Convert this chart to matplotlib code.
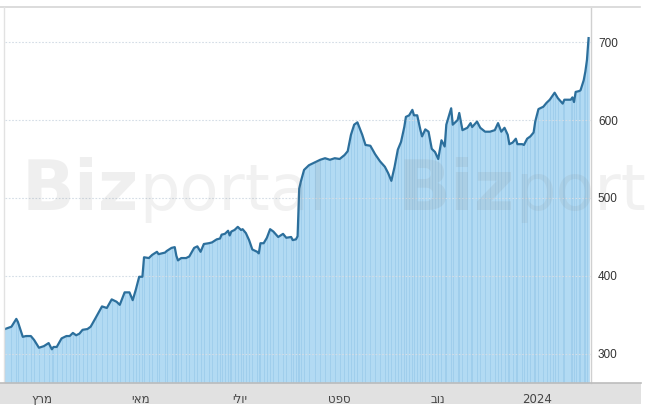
import numpy as np
import pandas as pd
import matplotlib
matplotlib.use("Agg")
from matplotlib import pyplot as plt

plt.rcParams['font.family'] = ['Liberation Sans', 'DejaVu Sans']

dates = [
    "2023-02-06", "2023-02-10", "2023-02-13", "2023-02-14", "2023-02-17", "2023-02-19",
    "2023-02-22", "2023-02-24", "2023-02-27", "2023-03-02", "2023-03-05", "2023-03-07",
    "2023-03-08", "2023-03-10", "2023-03-13", "2023-03-16", "2023-03-18", "2023-03-20",
    "2023-03-22", "2023-03-24", "2023-03-26", "2023-03-29", "2023-03-31", "2023-04-03",
    "2023-04-07", "2023-04-10", "2023-04-13", "2023-04-16", "2023-04-18", "2023-04-21",
    "2023-04-24", "2023-04-26", "2023-04-28", "2023-04-30", "2023-05-02", "2023-05-03",
    "2023-05-06", "2023-05-08", "2023-05-11", "2023-05-12", "2023-05-16", "2023-05-17",
    "2023-05-20", "2023-05-22", "2023-05-23", "2023-05-24", "2023-05-26", "2023-05-29",
    "2023-05-31", "2023-06-03", "2023-06-05", "2023-06-07", "2023-06-09", "2023-06-12",
    "2023-06-14", "2023-06-17", "2023-06-19", "2023-06-20", "2023-06-22", "2023-06-24",
    "2023-06-25", "2023-06-26", "2023-06-28", "2023-06-30", "2023-07-02", "2023-07-03",
    "2023-07-05", "2023-07-07", "2023-07-09", "2023-07-12", "2023-07-13", "2023-07-14",
    "2023-07-16", "2023-07-18", "2023-07-20", "2023-07-22", "2023-07-25", "2023-07-28",
    "2023-07-30", "2023-08-02", "2023-08-03", "2023-08-05", "2023-08-06", "2023-08-07",
    "2023-08-08", "2023-08-10", "2023-08-13", "2023-08-17", "2023-08-20", "2023-08-23",
    "2023-08-26", "2023-08-29", "2023-09-01", "2023-09-04", "2023-09-06", "2023-09-08",
    "2023-09-10", "2023-09-12", "2023-09-15", "2023-09-17", "2023-09-20", "2023-09-23",
    "2023-09-26", "2023-09-29", "2023-10-01", "2023-10-03", "2023-10-05", "2023-10-07",
    "2023-10-09", "2023-10-11", "2023-10-12", "2023-10-14", "2023-10-16", "2023-10-17",
    "2023-10-19", "2023-10-21", "2023-10-22", "2023-10-24", "2023-10-26", "2023-10-28",
    "2023-10-30", "2023-11-01", "2023-11-03", "2023-11-05", "2023-11-06", "2023-11-09",
    "2023-11-10", "2023-11-13", "2023-11-14", "2023-11-16", "2023-11-19", "2023-11-21",
    "2023-11-22", "2023-11-25", "2023-11-27", "2023-11-30", "2023-12-03", "2023-12-06",
    "2023-12-08", "2023-12-10", "2023-12-12", "2023-12-14", "2023-12-15", "2023-12-17",
    "2023-12-19", "2023-12-20", "2023-12-23", "2023-12-24", "2023-12-26", "2023-12-28",
    "2023-12-30", "2023-12-31", "2024-01-02", "2024-01-05", "2024-01-07", "2024-01-09",
    "2024-01-11", "2024-01-12", "2024-01-14", "2024-01-17", "2024-01-18", "2024-01-22",
    "2024-01-23", "2024-01-24", "2024-01-25", "2024-01-27", "2024-01-28", "2024-01-30",
    "2024-01-31", "2024-02-01", "2024-02-02",
]
prices = [
    332, 335, 345, 341, 322, 323,
    323, 318, 308, 310, 314, 306,
    309, 309, 320, 323, 323, 327,
    324, 326, 331, 332, 335, 346,
    361, 359, 370, 367, 363, 379,
    379, 369, 383, 399, 399, 424,
    423, 427, 431, 428, 430, 432,
    436, 437, 426, 420, 423, 423,
    425, 436, 438, 431, 441, 442,
    443, 447, 448, 453, 454, 458,
    452, 457, 459, 463, 459, 460,
    455, 446, 434, 431, 429, 442,
    442, 449, 460, 457, 450, 454,
    449, 450, 446, 447, 451, 512,
    521, 536, 542, 546, 549, 551,
    549, 551, 550, 555, 560, 581,
    594, 597, 581, 568, 567, 556,
    547, 540, 532, 522, 540, 562,
    572, 591, 604, 606, 613, 606,
    606, 587, 579, 588, 585, 563,
    559, 550, 574, 566, 594, 615,
    594, 600, 609, 587, 590, 596,
    591, 598, 590, 585, 585, 587,
    596, 585, 590, 581, 569, 571,
    576, 569, 569, 568, 576, 579,
    584, 598, 614, 617, 622, 626,
    632, 635, 628, 621, 626, 626,
    629, 623, 636, 637, 638, 651,
    662, 677, 705,
]
month_ticks = ["2023-03-01", "2023-05-01", "2023-07-01", "2023-09-01", "2023-11-01", "2024-01-01"]
month_labels = ["מרץ", "מאי", "יולי", "ספט", "נוב", "2024"]
y_ticks = [300, 400, 500, 600, 700]

x = pd.to_datetime(dates)
tick_x = pd.to_datetime(month_ticks)

W, H = 646, 407
fig = plt.figure(figsize=(W / 100, H / 100), dpi=100)
fig.patch.set_facecolor('white')

# plot area in pixels: x 5..591, y 8..383 (from top)
ax = fig.add_axes([5 / W, (H - 383) / H, 586 / W, 375 / H])
ax.set_facecolor('white')

y0 = 262.8
ax.fill_between(x, prices, y0, color='#b2daf3', linewidth=0, zorder=2)
ax.vlines(x, y0, prices, color='#94c6e8', linewidth=0.7, alpha=0.6, zorder=2)
ax.plot(x, prices, color='#2c6f9c', linewidth=1.6, zorder=4, solid_joinstyle='round')

ax.set_xlim(pd.Timestamp("2023-02-06"), pd.Timestamp("2024-02-03 12:00"))
ax.set_ylim(y0, 743.6)

for v in y_ticks:
    ax.axhline(v, color='#d4dde6', linewidth=0.8, linestyle=(0, (1.5, 1.5)), zorder=3)

ax.yaxis.tick_right()
ax.set_yticks(y_ticks)
ax.set_yticklabels([str(v) for v in y_ticks], fontsize=8.5, color='#333333')
ax.tick_params(axis='y', length=0, pad=5)

ax.set_xticks(tick_x)
# matplotlib lays glyphs left to right, so hebrew words are reversed for display
ax.set_xticklabels([s[::-1] if not s.isdigit() else s for s in month_labels],
                   fontsize=8.5, color='#444444', family=['DejaVu Sans'])
ax.tick_params(axis='x', length=0, pad=7)

for side in ['top', 'left', 'bottom']:
    ax.spines[side].set_visible(False)
ax.spines['right'].set_color('#d0d0d0')
ax.spines['right'].set_linewidth(1.0)

# frame lines and bottom band
fig.add_artist(plt.Line2D([0, 640 / W], [(H - 7) / H] * 2, color='#d6d6d6', linewidth=1.2))
fig.add_artist(plt.Line2D([4 / W] * 2, [(H - 7) / H, (H - 383) / H], color='#e2e2e2', linewidth=1.0))
band = plt.Rectangle((0, (H - 404) / H), 641 / W, 21 / H, transform=fig.transFigure,
                     facecolor='#e1e1e1', edgecolor='none', zorder=0)
fig.add_artist(band)
fig.add_artist(plt.Line2D([0, 641 / W], [(H - 383) / H] * 2, color='#bcbcbc', linewidth=1.2))

# watermark
for bx in [22, 398]:
    fig.text(bx / W, (H - 210) / H, 'Biz', fontsize=50, fontweight='bold',
             family='DejaVu Sans', color='gray', alpha=0.12, zorder=10)
    fig.text((bx + 117) / W, (H - 210) / H, 'portal', fontsize=46, fontweight='normal',
             family='DejaVu Sans', color='gray', alpha=0.11, zorder=10)

fig.savefig('out.png', dpi=100)
